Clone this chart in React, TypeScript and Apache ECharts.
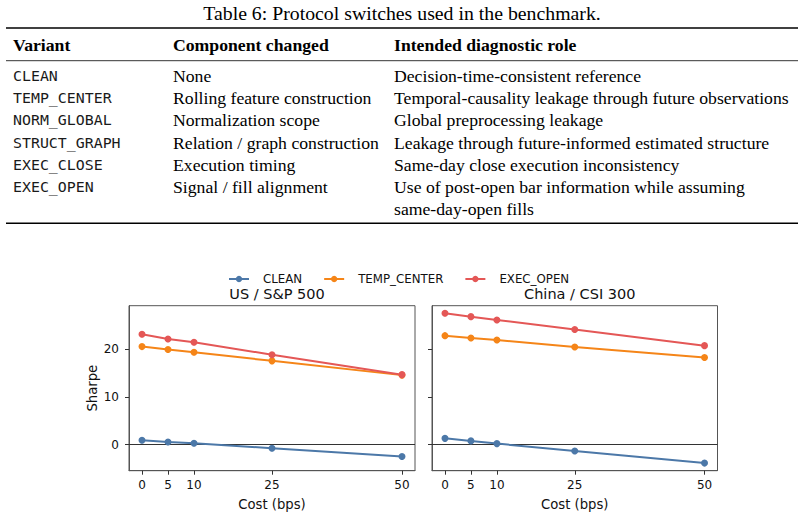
import React, { useEffect, useRef } from "react";
import * as echarts from "echarts";

const tableTitle = "Table 6: Protocol switches used in the benchmark.";
const tableHeaders = ["Variant", "Component changed", "Intended diagnostic role"];
const variants = ["CLEAN", "TEMP_CENTER", "NORM_GLOBAL", "STRUCT_GRAPH", "EXEC_CLOSE", "EXEC_OPEN"];
const components = [
  "None",
  "Rolling feature construction",
  "Normalization scope",
  "Relation / graph construction",
  "Execution timing",
  "Signal / fill alignment",
];
const roles = [
  ["Decision-time-consistent reference"],
  ["Temporal-causality leakage through future observations"],
  ["Global preprocessing leakage"],
  ["Leakage through future-informed estimated structure"],
  ["Same-day close execution inconsistency"],
  ["Use of post-open bar information while assuming", "same-day-open fills"],
];

const costs = [0, 5, 10, 25, 50];
const panelTitles = ["US / S&P 500", "China / CSI 300"];
const seriesNames = ["CLEAN", "TEMP_CENTER", "EXEC_OPEN"];
const usClean = [0.9, 0.55, 0.27, -0.78, -2.5];
const usTemp = [20.6, 20.0, 19.4, 17.6, 14.6];
const usExec = [23.2, 22.2, 21.5, 18.9, 14.7];
const cnClean = [1.3, 0.77, 0.2, -1.35, -3.9];
const cnTemp = [22.9, 22.4, 22.0, 20.5, 18.3];
const cnExec = [27.6, 26.9, 26.2, 24.2, 20.8];
const yTicks = [0, 10, 20];

const colors = ["#4c78a8", "#f58518", "#e45756"];

export default function App() {
  const ref = useRef<HTMLDivElement>(null);
  useEffect(() => {
    if (!ref.current) return;
    const chart = echarts.init(ref.current, null, { renderer: "svg" });
    const serif = "'Liberation Serif', 'Times New Roman', serif";
    const mono = "'DejaVu Sans Mono', monospace";
    const sans = "'DejaVu Sans', sans-serif";
    const bodySize = 17.7;

    const colX = [13, 173, 394];
    const rowY = [76, 98, 120, 143, 165, 187];
    const graphics: any[] = [];
    graphics.push({
      type: "text",
      x: 402,
      y: 13,
      style: { text: tableTitle, font: `19.8px ${serif}`, fill: "#000", align: "center", verticalAlign: "middle" },
    });
    graphics.push({ type: "line", shape: { x1: 6, y1: 28, x2: 798, y2: 28 }, style: { stroke: "#000", lineWidth: 1.4 } });
    graphics.push({ type: "line", shape: { x1: 6, y1: 60.7, x2: 798, y2: 60.7 }, style: { stroke: "#000", lineWidth: 0.8 } });
    graphics.push({ type: "line", shape: { x1: 6, y1: 223.3, x2: 798, y2: 223.3 }, style: { stroke: "#000", lineWidth: 1.4 } });
    tableHeaders.forEach((h, i) => {
      graphics.push({
        type: "text",
        x: colX[i],
        y: 45,
        style: { text: h, font: `bold ${bodySize}px ${serif}`, fill: "#000", verticalAlign: "middle" },
      });
    });
    variants.forEach((v, r) => {
      graphics.push({
        type: "text",
        x: colX[0],
        y: rowY[r],
        style: { text: v, font: `14.9px ${mono}`, fill: "#1a1a1a", verticalAlign: "middle" },
      });
      graphics.push({
        type: "text",
        x: colX[1],
        y: rowY[r],
        style: { text: components[r], font: `${bodySize}px ${serif}`, fill: "#000", verticalAlign: "middle" },
      });
      roles[r].forEach((line, k) => {
        graphics.push({
          type: "text",
          x: colX[2],
          y: rowY[r] + k * 21.5,
          style: { text: line, font: `${bodySize}px ${serif}`, fill: "#000", verticalAlign: "middle" },
        });
      });
    });

    const grids = [
      { left: 129, top: 305.7, width: 286, height: 165 },
      { left: 432, top: 305.7, width: 285.5, height: 165 },
    ];
    const data = [
      [usClean, usTemp, usExec],
      [cnClean, cnTemp, cnExec],
    ];
    const series: any[] = [];
    data.forEach((panel, p) => {
      panel.forEach((vals, s) => {
        const item: any = {
          type: "line",
          name: seriesNames[s],
          xAxisIndex: p,
          yAxisIndex: p,
          data: costs.map((c, i) => [c, vals[i]]),
          symbol: "circle",
          symbolSize: 7,
          lineStyle: { width: 2, color: colors[s] },
          itemStyle: { color: colors[s] },
          z: 3,
        };
        if (s === 0) {
          item.markLine = {
            silent: true,
            symbol: "none",
            label: { show: false },
            lineStyle: { color: "#333", width: 1, type: "solid" },
            data: [{ yAxis: 0 }],
            z: 2,
          };
        }
        series.push(item);
      });
    });

    chart.setOption({
      animation: false,
      color: colors,
      textStyle: { fontFamily: sans },
      graphic: graphics,
      title: panelTitles.map((t, i) => ({
        text: t,
        left: grids[i].left + grids[i].width / 2,
        top: 281,
        textAlign: "center",
        textStyle: { fontFamily: sans, fontSize: 14.5, fontWeight: "normal", color: "#111" },
      })),
      legend: {
        data: seriesNames,
        left: 223,
        top: 268,
        itemWidth: 20,
        itemHeight: 8,
        itemGap: 21,
        textStyle: { fontFamily: sans, fontSize: 11.8, color: "#111", padding: [0, 0, 0, 9] },
      },
      grid: grids.map((g) => ({ ...g, show: true, borderColor: "#555", borderWidth: 1, backgroundColor: "transparent" })),
      xAxis: grids.map((_, i) => ({
        type: "value",
        gridIndex: i,
        min: -2.5,
        max: 52.5,
        name: "Cost (bps)",
        nameLocation: "middle",
        nameGap: 27,
        nameTextStyle: { fontFamily: sans, fontSize: 13.2, color: "#111" },
        axisLine: { show: true, onZero: false, lineStyle: { color: "#555" } },
        axisTick: { show: true, length: 4, inside: false, customValues: costs, lineStyle: { color: "#333" } },
        axisLabel: { customValues: costs, fontFamily: sans, fontSize: 12, color: "#111", margin: 8 },
        splitLine: { show: false },
      })),
      yAxis: grids.map((_, i) => ({
        type: "value",
        gridIndex: i,
        min: -5.5,
        max: 29.2,
        name: i === 0 ? "Sharpe" : "",
        nameLocation: "middle",
        nameGap: 30,
        nameTextStyle: { fontFamily: sans, fontSize: 13.2, color: "#111" },
        axisLine: { show: true, onZero: false, lineStyle: { color: "#555" } },
        axisTick: { show: true, length: 4, inside: false, customValues: yTicks, lineStyle: { color: "#333" } },
        axisLabel: { show: i === 0, customValues: yTicks, fontFamily: sans, fontSize: 12, color: "#111", margin: 10 },
        splitLine: { show: false },
      })),
      series,
    });
    return () => chart.dispose();
  }, []);
  return (
    <div
      ref={ref}
      style={{ position: "fixed", left: 0, top: 0, width: 804, height: 516, background: "#fff" }}
    />
  );
}
